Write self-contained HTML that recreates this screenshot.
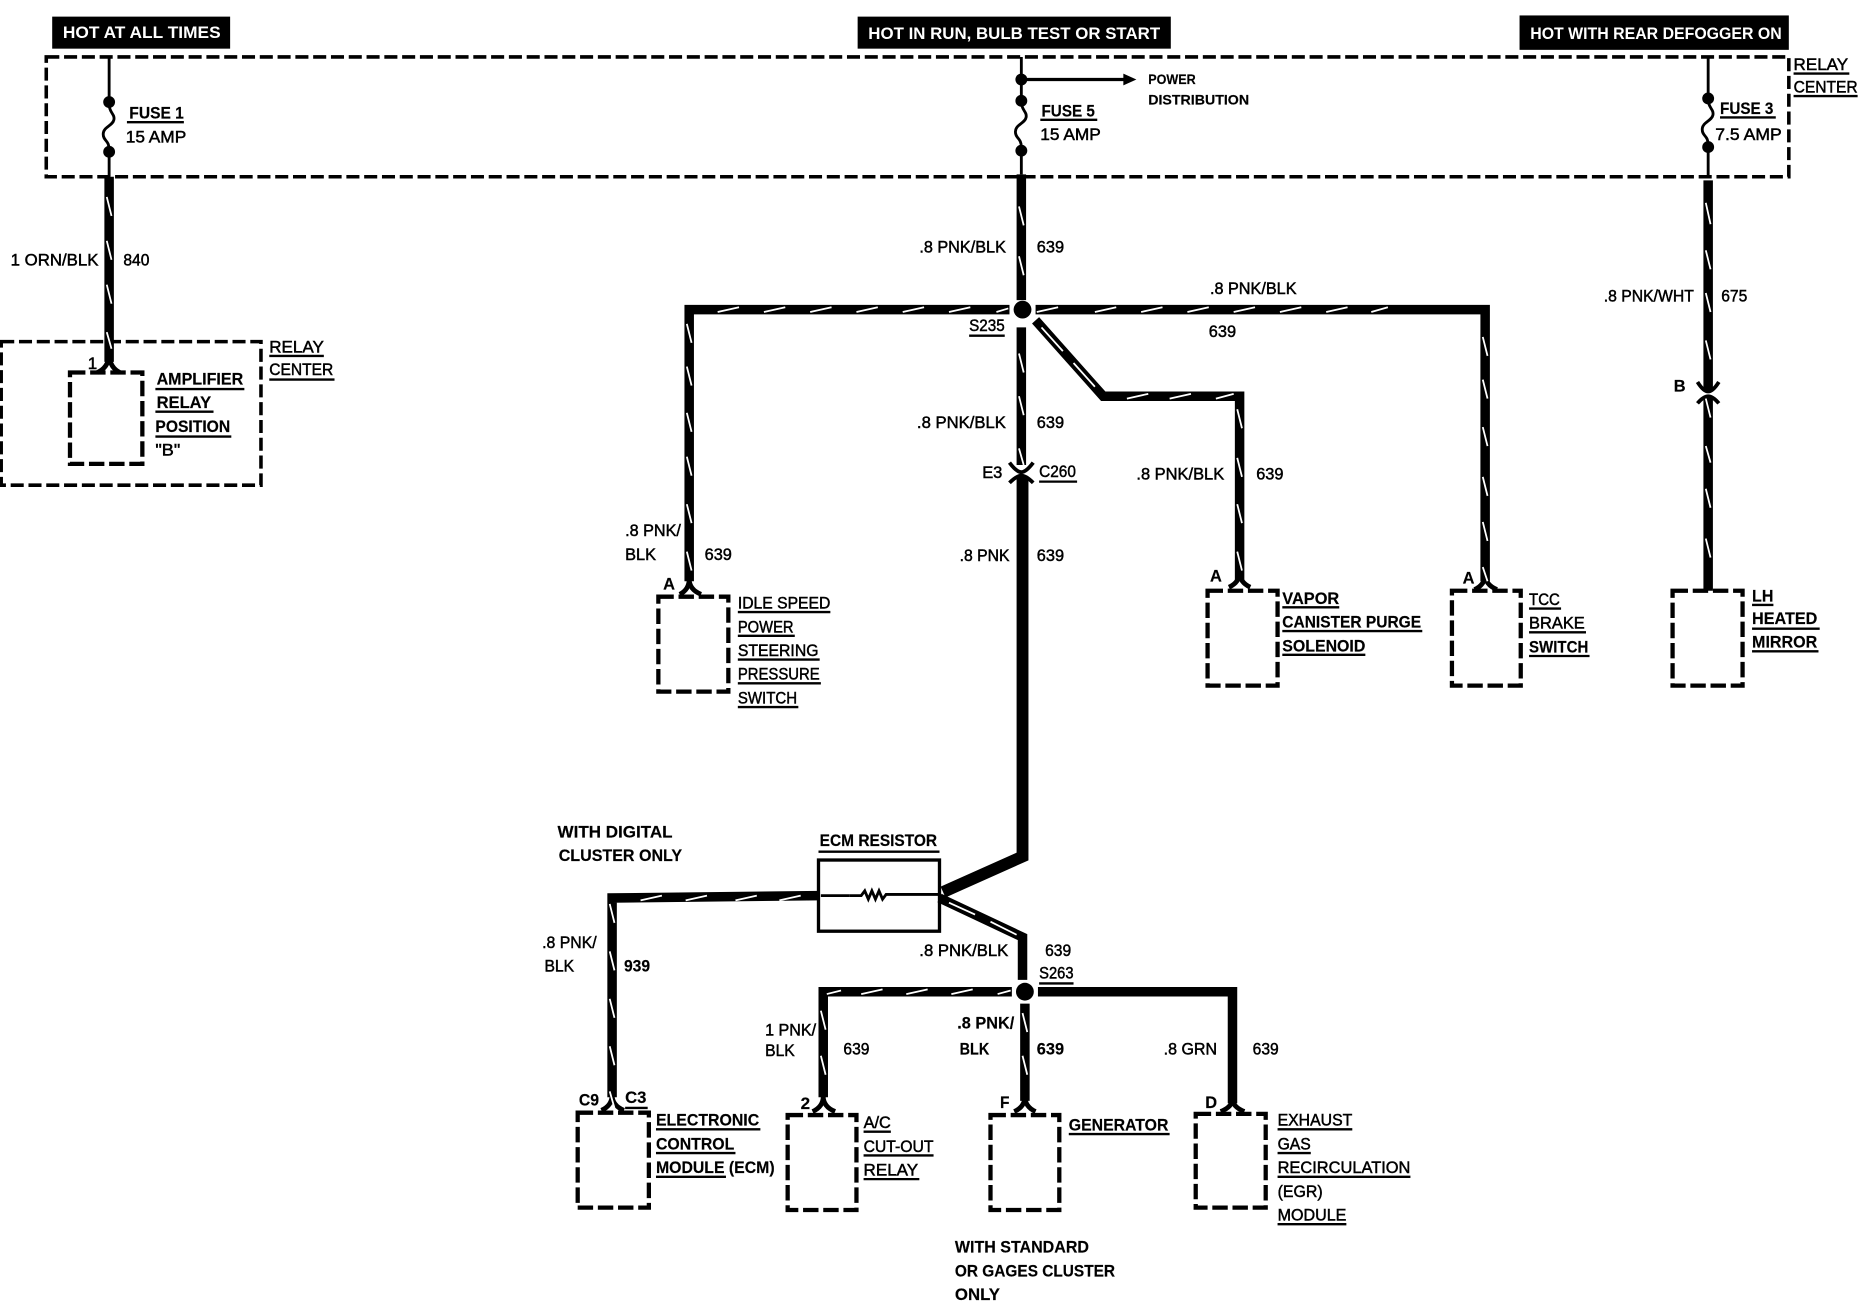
<!DOCTYPE html>
<html><head><meta charset="utf-8"><style>
html,body{margin:0;padding:0;background:#fff}
svg{display:block}
text{font-family:"Liberation Sans",sans-serif;font-size:14px;fill:#000;stroke:#000;stroke-width:.4}
.b{font-weight:bold;stroke-width:.15}
.w{font-weight:bold;fill:#fff;stroke:none}
</style></head><body>
<svg xmlns="http://www.w3.org/2000/svg" width="1860" height="1312" viewBox="0 0 1568 1106">
<rect width="1568" height="1106" fill="#fff"/>
<rect x="44" y="14" width="150" height="27"/><rect x="723" y="14" width="264" height="27"/><rect x="1281" y="13" width="227" height="29"/>
<g fill="none" stroke="#000">
<!-- dashed boxes -->
<g stroke-width="3" stroke-dasharray="11 4">
<rect x="39" y="48" width="1469" height="101"/>
<rect x="1" y="288" width="219" height="121"/>
</g>
<g stroke-width="3.6" stroke-dasharray="13 4">
<rect x="59" y="314" width="61" height="77"/>
<rect x="555" y="503" width="59" height="80"/>
<rect x="1018" y="498" width="59" height="80"/>
<rect x="1224" y="498" width="58" height="80"/>
<rect x="1410" y="498" width="59" height="80"/>
<rect x="487" y="938" width="60" height="80"/>
<rect x="664" y="940" width="58" height="80"/>
<rect x="835" y="940" width="58" height="80"/>
<rect x="1008" y="939" width="59" height="79"/>
</g>
<!-- thin fuse wires -->
<g stroke-width="2.4">
<path d="M92 48V88C92 95 97 96 96 101C95 106 87 107 87 113C87 119 92 118 92 126V149"/>
<path d="M861 48V86C861 93 866 94 865 99C864 104 856 105 856 111C856 117 861 116 861 124V147"/>
<path d="M1440 48V84C1440 91 1445 92 1444 97C1443 102 1435 103 1435 109C1435 115 1440 114 1440 122V149"/>
<path d="M861 67H950" stroke-width="2.8"/>
<path d="M716 755H726l3-4 3 7 3-7 3 7 3-7 3 7 3-4H792"/>
<path d="M692 755H716"/>
</g>
<!-- thick wires -->
<g stroke-width="8" stroke-linejoin="miter">
<path d="M92 149V305"/>
<path d="M861 147V253M861 276V392"/>
<path d="M851 261H581V490"/>
<path d="M873 261H1252V490"/>
<path d="M873 270L930 334H1045V490"/>
<path d="M1440 152V330M1440 334V498"/>
<path d="M690 755L516 757V925"/>
<path d="M792 757L862 790V826"/>
<path d="M853 836H694V925"/>
<path d="M864 846V928"/>
<path d="M875 836H1039V930"/>
</g>
<path d="M862 402V722L795 752" stroke-width="10"/>
<rect x="690" y="725" width="102" height="60" stroke-width="2.8"/>
<!-- connectors -->
<g stroke-width="4">
<path d="M82 314Q91 310 92 300Q93 310 101 314"/>
<path d="M573 501Q581 497 581 488Q581 497 591 501"/>
<path d="M1036 495Q1045 491 1045 482Q1045 491 1054 495"/>
<path d="M1243 497Q1252 493 1252 484Q1252 493 1262 497"/>
<path d="M507 936Q516 932 516 923Q516 932 526 936"/>
<path d="M685 937Q694 933 694 924Q694 933 704 937"/>
<path d="M855 937Q864 933 864 924Q864 933 873 937"/>
<path d="M1029 937Q1039 933 1039 926Q1039 933 1049 937"/>
<path d="M851 390Q857 398 861 398Q865 398 871 390" stroke-width="3.2"/>
<path d="M851 407Q857 401 861 401Q865 401 871 407" stroke-width="3.2"/>
<path d="M1431 322Q1436 330 1440 330Q1444 330 1449 322" stroke-width="3.2"/>
<path d="M1431 340Q1436 334 1440 334Q1444 334 1449 340" stroke-width="3.2"/>
</g>
<!-- underlines -->
<path stroke-width="2" d="M107 103H155M877 101H925M1450 99H1497M1512 62H1559M1512 81H1566M227 300H273M227 320H282M131 328H206M131 347H180M131 368H195M817 283H847M876 406H908M622 516H700M622 536H670M622 556H691M622 576H692M622 596H673M1081 512H1129M1081 532H1199M1081 552H1151M1289 513H1316M1289 533H1337M1289 553H1340M1477 510H1495M1477 530H1534M1477 549H1533M690 718H792M876 829H905M527 934H546M553 952H641M553 972H620M553 992H612M728 954H751M728 974H787M728 994H775M901 956H986M1077 952H1140M1077 972H1105M1077 992H1189M1077 1032H1135"/>
<!-- white hash marks -->
<g stroke="#fff" stroke-width="1.5">
<path d="M605 263l18-4m21 4l18-4m21 4l18-4m21 4l18-4m21 4l18-4m21 4l18-4m22 4l10-3"/>
<path d="M874 263l18-4m31 4l18-4m21 4l18-4m21 4l18-4m21 4l18-4m21 4l18-4m21 4l18-4m20 4l14-4"/>
<path d="M950 336l18-4m18 4l18-4m21 4l15-4"/>
<path d="M540 759l18-4m20 4l18-4m24 4l18-4m19 4l18-4"/>
<path d="M697 838l12-3m17 3l18-4m20 4l18-4m20 4l18-4m21 4l11-3"/>
<path d="M90 166l4 16m-4 21l4 16m-4 21l4 16m-4 24l4 14"/>
<path d="M859 174l4 16m-4 26l4 16m-4 66l4 16m-4 20l4 16m-4 28l4 14"/>
<path d="M579 273l4 16m-4 20l4 16m-4 23l4 16m-4 21l4 16m-4 24l4 16m-4 24l4 16"/>
<path d="M1250 284l4 16m-4 20l4 16m-4 24l4 16m-4 26l4 16m-4 22l4 16m-4 22l4 12"/>
<path d="M1043 345l4 16m-4 25l4 16m-4 23l4 16m-4 24l4 16"/>
<path d="M1438 171l4 18m-4 22l4 16m-4 20l4 16m-4 24l4 16m-4 33l4 16m-4 24l4 14m-4 22l4 16m-4 26l4 16"/>
<path d="M514 762l4 16m-4 24l4 16m-4 24l4 16m-4 24l4 16m-4 22l4 14"/>
<path d="M692 852l4 16m-4 22l4 16"/>
<path d="M862 854l4 16m-4 20l4 16"/>
<path d="M878 276l18 20M905 306l18 20M800 761l22 10M835 777l22 11"/>
</g>
</g>
<!-- dots -->
<circle cx="92" cy="86" r="5"/><circle cx="92" cy="128" r="5"/>
<circle cx="861" cy="67" r="5"/><circle cx="861" cy="85" r="5"/><circle cx="861" cy="127" r="5"/>
<circle cx="1440" cy="83" r="5"/><circle cx="1440" cy="124" r="5"/>
<circle cx="862" cy="261" r="7.5"/><circle cx="864" cy="836" r="7.5"/>
<path d="M947 62L958 67L947 72Z"/>
<!-- text -->
<text class="w" x="53" y="32" textLength="133" lengthAdjust="spacingAndGlyphs">HOT AT ALL TIMES</text>
<text class="w" x="732" y="33" textLength="246" lengthAdjust="spacingAndGlyphs">HOT IN RUN, BULB TEST OR START</text>
<text class="w" x="1290" y="33" textLength="212" lengthAdjust="spacingAndGlyphs">HOT WITH REAR DEFOGGER ON</text>
<g>
<text class="b" x="109" y="100" textLength="46" lengthAdjust="spacingAndGlyphs">FUSE 1</text>
<text x="106" y="120" textLength="51" lengthAdjust="spacingAndGlyphs">15 AMP</text>
<text class="b" x="878" y="98" textLength="45" lengthAdjust="spacingAndGlyphs">FUSE 5</text>
<text x="877" y="118" textLength="51" lengthAdjust="spacingAndGlyphs">15 AMP</text>
<text class="b" x="1450" y="96" textLength="45" lengthAdjust="spacingAndGlyphs">FUSE 3</text>
<text x="1446" y="118" textLength="56" lengthAdjust="spacingAndGlyphs">7.5 AMP</text>
<text class="b" style="font-size:12px" x="968" y="71" textLength="40" lengthAdjust="spacingAndGlyphs">POWER</text>
<text class="b" style="font-size:12px" x="968" y="88" textLength="85" lengthAdjust="spacingAndGlyphs">DISTRIBUTION</text>
<text x="1512" y="59" textLength="46" lengthAdjust="spacingAndGlyphs">RELAY</text>
<text x="1512" y="78" textLength="54" lengthAdjust="spacingAndGlyphs">CENTER</text>
<text x="227" y="297" textLength="46" lengthAdjust="spacingAndGlyphs">RELAY</text>
<text x="227" y="316" textLength="54" lengthAdjust="spacingAndGlyphs">CENTER</text>
<text class="b" x="132" y="324" textLength="73" lengthAdjust="spacingAndGlyphs">AMPLIFIER</text>
<text class="b" x="132" y="344" textLength="46" lengthAdjust="spacingAndGlyphs">RELAY</text>
<text class="b" x="131" y="364" textLength="63" lengthAdjust="spacingAndGlyphs">POSITION</text>
<text x="131" y="384" textLength="21" lengthAdjust="spacingAndGlyphs">"B"</text>
<text x="74" y="311" textLength="8" lengthAdjust="spacingAndGlyphs">1</text>
<text x="9" y="224" textLength="74" lengthAdjust="spacingAndGlyphs">1 ORN/BLK</text>
<text x="104" y="224" textLength="22" lengthAdjust="spacingAndGlyphs">840</text>
<text x="775" y="213" textLength="73" lengthAdjust="spacingAndGlyphs">.8 PNK/BLK</text>
<text x="874" y="213" textLength="23" lengthAdjust="spacingAndGlyphs">639</text>
<text x="1020" y="248" textLength="73" lengthAdjust="spacingAndGlyphs">.8 PNK/BLK</text>
<text x="1019" y="284" textLength="23" lengthAdjust="spacingAndGlyphs">639</text>
<text x="817" y="279" textLength="30" lengthAdjust="spacingAndGlyphs">S235</text>
<text x="1352" y="254" textLength="76" lengthAdjust="spacingAndGlyphs">.8 PNK/WHT</text>
<text x="1451" y="254" textLength="22" lengthAdjust="spacingAndGlyphs">675</text>
<text x="773" y="361" textLength="75" lengthAdjust="spacingAndGlyphs">.8 PNK/BLK</text>
<text x="874" y="361" textLength="23" lengthAdjust="spacingAndGlyphs">639</text>
<text x="828" y="403" textLength="17" lengthAdjust="spacingAndGlyphs">E3</text>
<text x="876" y="402" textLength="31" lengthAdjust="spacingAndGlyphs">C260</text>
<text x="958" y="404" textLength="74" lengthAdjust="spacingAndGlyphs">.8 PNK/BLK</text>
<text x="1059" y="404" textLength="23" lengthAdjust="spacingAndGlyphs">639</text>
<text class="b" x="1411" y="330" textLength="10" lengthAdjust="spacingAndGlyphs">B</text>
<text x="527" y="452" textLength="47" lengthAdjust="spacingAndGlyphs">.8 PNK/</text>
<text x="527" y="472" textLength="26" lengthAdjust="spacingAndGlyphs">BLK</text>
<text x="594" y="472" textLength="23" lengthAdjust="spacingAndGlyphs">639</text>
<text class="b" x="559" y="497" textLength="10" lengthAdjust="spacingAndGlyphs">A</text>
<text x="809" y="473" textLength="42" lengthAdjust="spacingAndGlyphs">.8 PNK</text>
<text x="874" y="473" textLength="23" lengthAdjust="spacingAndGlyphs">639</text>
<text x="622" y="513" textLength="78" lengthAdjust="spacingAndGlyphs">IDLE SPEED</text>
<text x="622" y="533" textLength="47" lengthAdjust="spacingAndGlyphs">POWER</text>
<text x="622" y="553" textLength="68" lengthAdjust="spacingAndGlyphs">STEERING</text>
<text x="622" y="573" textLength="69" lengthAdjust="spacingAndGlyphs">PRESSURE</text>
<text x="622" y="593" textLength="50" lengthAdjust="spacingAndGlyphs">SWITCH</text>
<text class="b" x="1081" y="509" textLength="48" lengthAdjust="spacingAndGlyphs">VAPOR</text>
<text class="b" x="1081" y="529" textLength="117" lengthAdjust="spacingAndGlyphs">CANISTER PURGE</text>
<text class="b" x="1081" y="549" textLength="70" lengthAdjust="spacingAndGlyphs">SOLENOID</text>
<text x="1289" y="510" textLength="26" lengthAdjust="spacingAndGlyphs">TCC</text>
<text x="1289" y="530" textLength="47" lengthAdjust="spacingAndGlyphs">BRAKE</text>
<text class="b" x="1289" y="550" textLength="50" lengthAdjust="spacingAndGlyphs">SWITCH</text>
<text class="b" x="1477" y="507" textLength="18" lengthAdjust="spacingAndGlyphs">LH</text>
<text class="b" x="1477" y="526" textLength="55" lengthAdjust="spacingAndGlyphs">HEATED</text>
<text class="b" x="1477" y="546" textLength="55" lengthAdjust="spacingAndGlyphs">MIRROR</text>
<text class="b" x="1020" y="490" textLength="10" lengthAdjust="spacingAndGlyphs">A</text>
<text class="b" x="1233" y="492" textLength="10" lengthAdjust="spacingAndGlyphs">A</text>
<text class="b" x="470" y="706" textLength="97" lengthAdjust="spacingAndGlyphs">WITH DIGITAL</text>
<text class="b" x="471" y="726" textLength="104" lengthAdjust="spacingAndGlyphs">CLUSTER ONLY</text>
<text class="b" x="691" y="713" textLength="99" lengthAdjust="spacingAndGlyphs">ECM RESISTOR</text>
<text x="457" y="799" textLength="46" lengthAdjust="spacingAndGlyphs">.8 PNK/</text>
<text x="459" y="819" textLength="25" lengthAdjust="spacingAndGlyphs">BLK</text>
<text class="b" x="526" y="819" textLength="22" lengthAdjust="spacingAndGlyphs">939</text>
<text x="775" y="806" textLength="75" lengthAdjust="spacingAndGlyphs">.8 PNK/BLK</text>
<text x="881" y="806" textLength="22" lengthAdjust="spacingAndGlyphs">639</text>
<text x="876" y="825" textLength="29" lengthAdjust="spacingAndGlyphs">S263</text>
<text x="645" y="873" textLength="43" lengthAdjust="spacingAndGlyphs">1 PNK/</text>
<text x="645" y="890" textLength="25" lengthAdjust="spacingAndGlyphs">BLK</text>
<text x="711" y="889" textLength="22" lengthAdjust="spacingAndGlyphs">639</text>
<text class="b" x="807" y="867" textLength="48" lengthAdjust="spacingAndGlyphs">.8 PNK/</text>
<text class="b" x="809" y="889" textLength="25" lengthAdjust="spacingAndGlyphs">BLK</text>
<text class="b" x="874" y="889" textLength="23" lengthAdjust="spacingAndGlyphs">639</text>
<text x="981" y="889" textLength="45" lengthAdjust="spacingAndGlyphs">.8 GRN</text>
<text x="1056" y="889" textLength="22" lengthAdjust="spacingAndGlyphs">639</text>
<text class="b" x="488" y="932" textLength="17" lengthAdjust="spacingAndGlyphs">C9</text>
<text class="b" x="527" y="930" textLength="18" lengthAdjust="spacingAndGlyphs">C3</text>
<text class="b" x="675" y="935" textLength="8" lengthAdjust="spacingAndGlyphs">2</text>
<text class="b" x="843" y="934" textLength="8" lengthAdjust="spacingAndGlyphs">F</text>
<text class="b" x="1016" y="934" textLength="10" lengthAdjust="spacingAndGlyphs">D</text>
<text class="b" x="553" y="949" textLength="87" lengthAdjust="spacingAndGlyphs">ELECTRONIC</text>
<text class="b" x="553" y="969" textLength="66" lengthAdjust="spacingAndGlyphs">CONTROL</text>
<text class="b" x="553" y="989" textLength="100" lengthAdjust="spacingAndGlyphs">MODULE (ECM)</text>
<text x="728" y="951" textLength="23" lengthAdjust="spacingAndGlyphs">A/C</text>
<text x="728" y="971" textLength="59" lengthAdjust="spacingAndGlyphs">CUT-OUT</text>
<text x="728" y="991" textLength="46" lengthAdjust="spacingAndGlyphs">RELAY</text>
<text class="b" x="901" y="953" textLength="84" lengthAdjust="spacingAndGlyphs">GENERATOR</text>
<text x="1077" y="949" textLength="63" lengthAdjust="spacingAndGlyphs">EXHAUST</text>
<text x="1077" y="969" textLength="28" lengthAdjust="spacingAndGlyphs">GAS</text>
<text x="1077" y="989" textLength="112" lengthAdjust="spacingAndGlyphs">RECIRCULATION</text>
<text x="1077" y="1009" textLength="38" lengthAdjust="spacingAndGlyphs">(EGR)</text>
<text x="1077" y="1029" textLength="58" lengthAdjust="spacingAndGlyphs">MODULE</text>
<text class="b" x="805" y="1056" textLength="113" lengthAdjust="spacingAndGlyphs">WITH STANDARD</text>
<text class="b" x="805" y="1076" textLength="135" lengthAdjust="spacingAndGlyphs">OR GAGES CLUSTER</text>
<text class="b" x="805" y="1096" textLength="38" lengthAdjust="spacingAndGlyphs">ONLY</text>
</g>
</svg>
</body></html>
